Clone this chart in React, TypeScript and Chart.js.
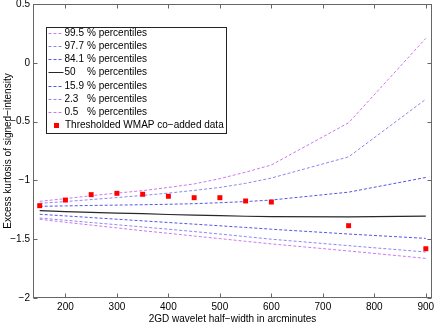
import React, { useEffect, useRef } from "react";
import { Chart, registerables } from "chart.js";

Chart.register(...registerables);

const FONT = '"Liberation Sans", Arial, Helvetica, sans-serif';

// Half-widths (arcminutes)
const xValues = [150, 200, 250, 300, 350, 400, 450, 500, 550, 600, 750, 900];

// Percentile curves of excess kurtosis
const p995 = [-1.178, -1.155, -1.13, -1.108, -1.087, -1.06, -1.03, -0.985, -0.93, -0.869, -0.51, 0.208];
const p977 = [-1.195, -1.18, -1.163, -1.146, -1.128, -1.108, -1.085, -1.06, -1.025, -0.98, -0.8, -0.31];
const p841 = [-1.22, -1.217, -1.213, -1.21, -1.207, -1.203, -1.198, -1.19, -1.18, -1.167, -1.1, -0.975];
const p500 = [-1.257, -1.265, -1.272, -1.278, -1.283, -1.29, -1.295, -1.3, -1.305, -1.308, -1.31, -1.303];
const p159 = [-1.288, -1.302, -1.316, -1.33, -1.344, -1.358, -1.372, -1.386, -1.4, -1.415, -1.456, -1.493];
const p023 = [-1.32, -1.339, -1.358, -1.377, -1.396, -1.415, -1.435, -1.456, -1.478, -1.5, -1.555, -1.609];
const p005 = [-1.331, -1.356, -1.38, -1.404, -1.428, -1.45, -1.473, -1.495, -1.518, -1.54, -1.6, -1.663];

// Thresholded WMAP co-added data
const wmap = [-1.215, -1.167, -1.121, -1.11, -1.118, -1.135, -1.147, -1.147, -1.175, -1.184, -1.385, -1.581];

const percentileNumbers = ["99.5", "97.7", "84.1", "50", "15.9", "2.3", "0.5"];
const percentileSeries = [p995, p977, p841, p500, p159, p023, p005];
const percentileColors = [
  "rgb(204,120,240)",
  "rgb(140,135,240)",
  "rgb(85,85,230)",
  "rgb(40,40,40)",
  "rgb(85,85,230)",
  "rgb(140,135,240)",
  "rgb(204,120,240)",
];
const dataLabel = "Thresholded WMAP co\u2212added data";

const xTicks = [200, 300, 400, 500, 600, 700, 800, 900];
const yTicks = [-2, -1.5, -1, -0.5, 0, 0.5];

const xTitle = "2GD wavelet half\u2212width in arcminutes";
const yTitle = "Excess kurtosis of signed\u2212intensity";

const fmt = (v: number) => (v < 0 ? "\u2212" + String(-v) : String(v));

const framePlugin = {
  id: "frame",
  afterDatasetsDraw(chart: any) {
    const { ctx, chartArea, scales } = chart;
    const L = Math.round(chartArea.left) + 0.5;
    const R = Math.round(chartArea.right) - 0.5;
    const T = Math.round(chartArea.top) + 0.5;
    const B = Math.round(chartArea.bottom) - 0.5;
    ctx.save();
    ctx.strokeStyle = "#666";
    ctx.lineWidth = 1;
    ctx.strokeRect(L, T, R - L, B - T);
    const tl = 4;
    ctx.beginPath();
    for (const v of xTicks) {
      const px = Math.round(scales.x.getPixelForValue(v)) + 0.5;
      ctx.moveTo(px, B);
      ctx.lineTo(px, B - tl);
      ctx.moveTo(px, T);
      ctx.lineTo(px, T + tl);
    }
    for (const v of yTicks) {
      const py = Math.round(scales.y.getPixelForValue(v)) + 0.5;
      ctx.moveTo(L, py);
      ctx.lineTo(L + tl, py);
      ctx.moveTo(R, py);
      ctx.lineTo(R - tl, py);
    }
    ctx.stroke();
    ctx.restore();
  },
};

const legendPlugin = {
  id: "boxLegend",
  afterDraw(chart: any) {
    const { ctx, chartArea } = chart;
    const bx = Math.round(chartArea.left) + 13 + 0.5;
    const by = Math.round(chartArea.top) + 23 + 0.5;
    const bw = 180;
    const bh = 106;
    ctx.save();
    ctx.fillStyle = "#fff";
    ctx.fillRect(bx, by, bw, bh);
    ctx.strokeStyle = "#222";
    ctx.lineWidth = 1;
    ctx.strokeRect(bx, by, bw, bh);
    ctx.font = `10px ${FONT}`;
    ctx.textBaseline = "middle";
    ctx.fillStyle = "#000";
    const rowH = 13.2;
    const y0 = by + 5.3;
    percentileNumbers.forEach((num, i) => {
      const yy = Math.round(y0 + i * rowH) + 0.5;
      ctx.save();
      ctx.strokeStyle = percentileColors[i];
      ctx.lineWidth = 1;
      if (i !== 3) ctx.setLineDash([3, 2]);
      ctx.beginPath();
      ctx.moveTo(bx + 2, yy);
      ctx.lineTo(bx + 17, yy);
      ctx.stroke();
      ctx.restore();
      ctx.fillText(num, bx + 18, yy);
      ctx.fillText("% percentiles", bx + 40.5, yy);
    });
    const yy = Math.round(y0 + 7 * rowH) + 0.5;
    ctx.fillStyle = "#ff0000";
    ctx.fillRect(bx + 7.5, yy - 2.5, 5, 5);
    ctx.fillStyle = "#000";
    ctx.fillText(dataLabel, bx + 18.5, yy);
    ctx.restore();
  },
};

export default function App() {
  const canvasRef = useRef<HTMLCanvasElement | null>(null);

  useEffect(() => {
    const canvas = canvasRef.current;
    if (!canvas) return;

    const lineSets = percentileSeries.map((arr, i) => ({
      label: percentileNumbers[i] + " % percentiles",
      data: xValues.map((x, j) => ({ x, y: arr[j] })),
      borderColor: percentileColors[i],
      backgroundColor: percentileColors[i],
      borderWidth: i === 3 ? 1.2 : 1,
      borderDash: i === 3 ? [] : [3, 2],
      pointRadius: 0,
      fill: false,
      tension: 0,
      order: 1,
    }));

    const chart = new Chart(canvas, {
      type: "line",
      data: {
        datasets: [
          ...lineSets,
          {
            label: dataLabel,
            data: xValues.map((x, j) => ({ x, y: wmap[j] })),
            showLine: false,
            pointStyle: "rect",
            pointRadius: 3.5,
            pointBackgroundColor: "#ff0000",
            pointBorderWidth: 0,
            borderColor: "#ff0000",
            backgroundColor: "#ff0000",
            order: 0,
          } as any,
        ],
      },
      options: {
        animation: false,
        responsive: false,
        maintainAspectRatio: false,
        devicePixelRatio: 1,
        events: [],
        layout: { padding: { top: 4, right: 3, left: 0, bottom: 0 } },
        plugins: {
          legend: { display: false },
          tooltip: { enabled: false },
        },
        scales: {
          x: {
            type: "linear",
            min: 137,
            max: 912,
            afterBuildTicks: (s: any) => {
              s.ticks = xTicks.map((v) => ({ value: v }));
            },
            afterFit: (s: any) => {
              s.height = 29;
              s.paddingLeft = 0;
              s.paddingRight = 0;
            },
            ticks: {
              callback: (v: any) => fmt(Number(v)),
              font: { family: FONT, size: 10 },
              color: "#000",
              padding: 3,
              maxRotation: 0,
              autoSkip: false,
            },
            grid: { display: false, drawTicks: false },
            border: { display: false },
            title: {
              display: true,
              text: xTitle,
              font: { family: FONT, size: 10 },
              color: "#000",
              padding: { top: 0, bottom: 2 },
            },
          },
          y: {
            type: "linear",
            min: -2,
            max: 0.5,
            afterBuildTicks: (s: any) => {
              s.ticks = yTicks.map((v) => ({ value: v }));
            },
            afterFit: (s: any) => {
              s.width = 33;
              s.paddingTop = 0;
              s.paddingBottom = 0;
            },
            ticks: {
              callback: (v: any) => fmt(Number(v)),
              font: { family: FONT, size: 10 },
              color: "#000",
              padding: 3,
              autoSkip: false,
            },
            grid: { display: false, drawTicks: false },
            border: { display: false },
            title: {
              display: true,
              text: yTitle,
              font: { family: FONT, size: 10 },
              color: "#000",
              padding: { top: 2, bottom: 0 },
            },
          },
        },
      } as any,
      plugins: [framePlugin, legendPlugin],
    });

    return () => chart.destroy();
  }, []);

  return (
    <div style={{ position: "absolute", left: 0, top: 0, width: 436, height: 327, background: "#fff" }}>
      <canvas ref={canvasRef} width={436} height={327} style={{ display: "block" }} />
    </div>
  );
}
